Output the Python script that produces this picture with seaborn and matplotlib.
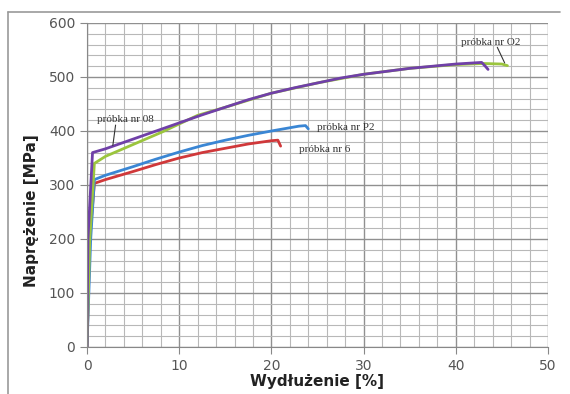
import numpy as np
import pandas as pd
import seaborn as sns
import matplotlib.pyplot as plt
from matplotlib.ticker import MultipleLocator
from matplotlib.lines import Line2D

# (wydłużenie [%], naprężenie [MPa])
x_08 = [0, 0.1, 0.6, 2, 5, 7.5, 10, 12.5, 15, 17.5, 20, 22.5, 25, 27.5, 30, 35, 40, 42.8, 43.2, 43.5]
y_08 = [0, 200, 360, 367, 385, 400, 415, 430, 444, 458, 470, 480, 489, 498, 505, 516, 524, 527, 520, 514]

x_o2 = [0, 0.3, 0.8, 2, 5, 8, 10, 12, 15, 20, 25, 30, 35, 40, 43, 45, 45.6]
y_o2 = [0, 200, 340, 353, 375, 397, 413, 429, 444, 470, 489, 505, 516, 523, 525, 524, 521]

x_p2 = [0, 0.4, 0.8, 2, 5, 7.5, 10, 12.5, 15, 17.5, 20, 23, 23.7, 24]
y_p2 = [0, 200, 310, 318, 334, 348, 361, 373, 383, 392, 400, 409, 410, 404]

x_6 = [0, 0.3, 0.8, 2, 5, 7.5, 10, 12.5, 15, 17.5, 20, 20.7, 21]
y_6 = [0, 200, 303, 310, 325, 338, 350, 360, 368, 376, 382, 383, 372]

samples = ['6', 'P2', 'O2', '08']
colors = {'6': '#d0383a', 'P2': '#3a86d4', 'O2': '#9bc53d', '08': '#7040a8'}

df = pd.concat([
    pd.DataFrame({'x': x_6, 'y': y_6, 'probka': '6'}),
    pd.DataFrame({'x': x_p2, 'y': y_p2, 'probka': 'P2'}),
    pd.DataFrame({'x': x_o2, 'y': y_o2, 'probka': 'O2'}),
    pd.DataFrame({'x': x_08, 'y': y_08, 'probka': '08'}),
])

sns.set_style('white')
fig = plt.figure(figsize=(5.7, 3.94), dpi=100)
ax = fig.add_axes([87 / 570, 1 - 347 / 394, 461 / 570, 324 / 394])

for s in samples:
    sns.lineplot(data=df[df['probka'] == s], x='x', y='y', color=colors[s],
                 lw=2, sort=False, estimator=None, ax=ax, legend=False)

ax.set_xlim(0, 50)
ax.set_ylim(0, 600)
ax.xaxis.set_major_locator(MultipleLocator(10))
ax.xaxis.set_minor_locator(MultipleLocator(2))
ax.yaxis.set_major_locator(MultipleLocator(100))
ax.yaxis.set_minor_locator(MultipleLocator(20))
ax.grid(which='major', color='#909090', lw=1.0)
ax.grid(which='minor', color='#b8b8b8', lw=0.8)
ax.set_axisbelow(True)
for sp in ['top', 'right']:
    ax.spines[sp].set_visible(False)
for sp in ['left', 'bottom']:
    ax.spines[sp].set_color('#888888')
ax.tick_params(which='major', direction='out', length=5, color='#888888',
               labelsize=10, labelcolor='#555555', left=True, bottom=True)
ax.tick_params(which='minor', length=0)

ax.set_xlabel('Wydłużenie [%]', fontsize=11, fontweight='bold', color='#222222', labelpad=1)
ax.set_ylabel('Naprężenie [MPa]', fontsize=11, fontweight='bold', color='#222222')
ax.yaxis.set_label_coords(-0.105, 0.42)

serif = dict(family='Liberation Serif', fontsize=8, color='#333333')
ax.text(1.1, 421, 'próbka nr 08', va='center', **serif)
ax.plot([3.1, 2.8], [411, 373], color='#333333', lw=0.8)
ax.text(40.6, 564, 'próbka nr O2', va='center', **serif)
ax.plot([44.5, 45.3], [555, 526], color='#333333', lw=0.8)
ax.text(24.9, 407, 'próbka nr P2', va='center', **serif)
ax.text(23.0, 366, 'próbka nr 6', va='center', **serif)

# ramka obrazka
fig.add_artist(Line2D([8 / 570, 8 / 570], [0, 1 - 12 / 394], color='#999999', lw=1.2))
fig.add_artist(Line2D([8 / 570, 560 / 570], [1 - 12 / 394, 1 - 12 / 394], color='#999999', lw=1.2))

plt.savefig('out.png', dpi=100)
